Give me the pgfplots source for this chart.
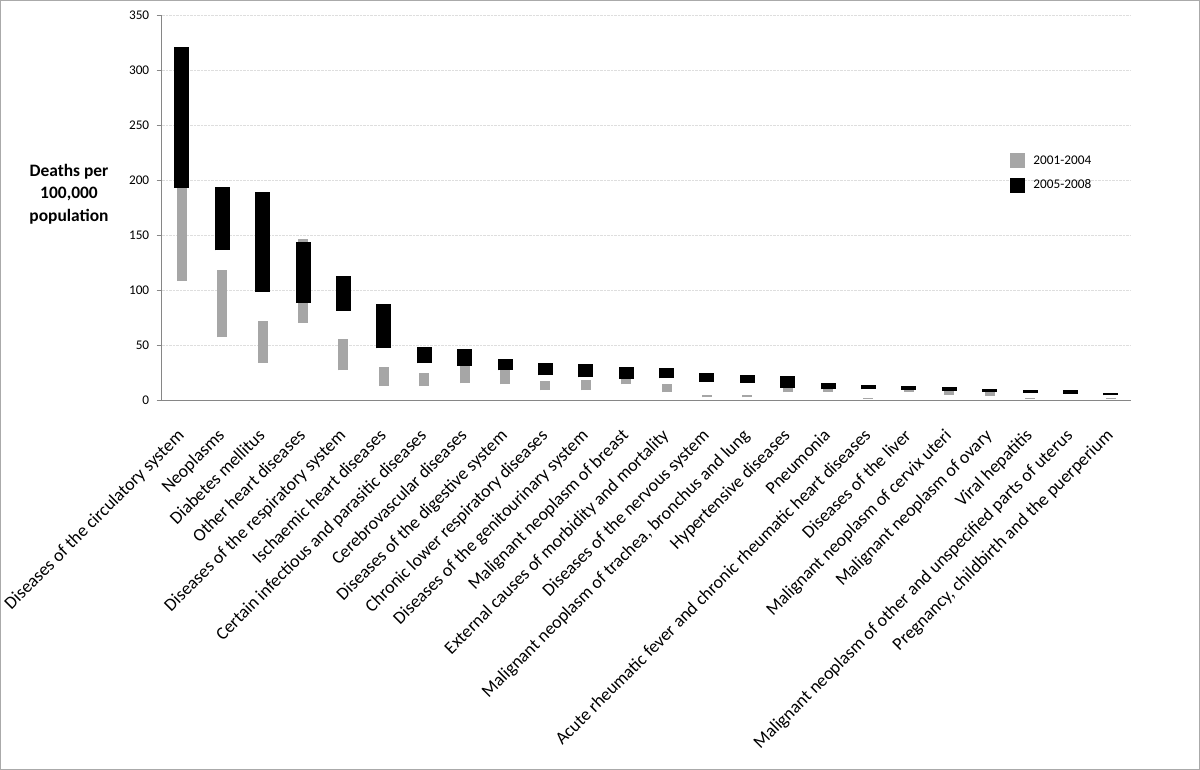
\documentclass[border=0pt]{standalone}
\usepackage{pgfplots}
\pgfplotsset{compat=1.18}
\usepackage{pgfplotstable}
\usepackage{fontspec}
\setmainfont{Carlito}
\definecolor{barGray}{RGB}{166,166,166}
\definecolor{axGray}{RGB}{134,134,134}
\definecolor{gridGray}{RGB}{222,222,222}

\pgfplotstableread{
x glo ghi blo bhi
0 108 193 193 321
1 57 118 136 194
2 34 72 98 189
3 70 146 88.5 144
4 27 55 81 113
5 13 30 47 87
6 12.7 24.8 33.3 47.9
7 15.2 31.2 31.2 46.1
8 14.2 27 27 37.3
9 8.8 17 22.4 33.3
10 8.8 18.2 20.6 32.4
11 14.2 19.4 19.4 29.7
12 7 14.2 19.7 28.8
13 2.4 4.5 16.4 24.2
14 2.4 4.5 15.5 22.4
15 7 11.2 11.2 21.5
16 7.3 9.7 9.7 15.2
17 1.2 2.0 9.7 13.6
18 7.3 9.1 9.1 12.7
19 4.8 8.5 8.5 11.5
20 3.6 7.3 7.3 10.3
21 1.2 1.8 6.7 9.1
22 5.0 7.5 5.5 9.1
23 1.0 1.5 4.3 6.6
}\data

\begin{document}
\begin{tikzpicture}[x=1bp,y=1bp]
\useasboundingbox (0,0) rectangle (1200,770);
\draw[axGray!70, line width=1bp] (0.5,0.5) rectangle (1199.5,769.5);
\begin{axis}[
  at={(161.7bp,370bp)}, anchor=south west,
  scale only axis, width=969.3bp, height=385bp,
  xmin=-0.5, xmax=23.5, ymin=0, ymax=350,
  axis x line=bottom, axis y line=left,
  axis line style={-, axGray, line width=0.8bp},
  tick align=outside,
  ytick={0,50,...,350},
  yticklabel style={font=\fontsize{13.3}{16}\selectfont, xshift=-4bp, /pgf/number format/assume math mode=true},
  /pgf/number format/assume math mode=true,
  ymajorgrids, grid style={gridGray, densely dotted, line width=0.8bp},
  major tick length=5bp,
  xtick={0,...,23},
  x tick style={draw=none},
  y tick style={axGray, line width=0.8bp},
  minor xtick={-0.5,0.5,...,23.5},
  minor x tick style={axGray, line width=0.8bp},
  minor tick length=6bp,
  xticklabels={Diseases of the circulatory system,Neoplasms,Diabetes mellitus,Other heart diseases,Diseases of the respiratory system,Ischaemic heart diseases,Certain infectious and parasitic diseases,Cerebrovascular diseases,Diseases of the digestive system,Chronic lower respiratory diseases,Diseases of the genitourinary system,Malignant neoplasm of breast,External causes of morbidity and mortality,Diseases of the nervous system,{Malignant neoplasm of trachea, bronchus and lung},Hypertensive diseases,Pneumonia,Acute rheumatic fever and chronic rheumatic heart diseases,Diseases of the liver,Malignant neoplasm of cervix uteri,Malignant neoplasm of ovary,Viral hepatitis,Malignant neoplasm of other and unspecified parts of uterus,{Pregnancy, childbirth and the puerperium}},
  xticklabel style={font=\fontsize{18}{20}\selectfont, rotate=45, anchor=north east, inner sep=0pt, xshift=-20bp, yshift=-12bp},
  legend style={at={(0.875,0.641)}, anchor=north west, draw=none, fill=none, font=\fontsize{13.3}{16}\selectfont, row sep=10bp, inner sep=0pt,
    /tikz/every odd column/.append style={column sep=7bp}},
  legend cell align=left,
]
\addplot[draw=none, mark=none, forget plot, error bars/.cd, y dir=plus, y explicit, error mark=none,
  error bar style={draw=barGray, line width=10bp, line cap=butt, solid}]
  table[x=x, y=glo, y error expr=\thisrow{ghi}-\thisrow{glo}] {\data};
\addplot[draw=none, mark=none, forget plot, error bars/.cd, y dir=plus, y explicit, error mark=none,
  error bar style={draw=black, line width=15bp, line cap=butt, solid}]
  table[x=x, y=blo, y error expr=\thisrow{bhi}-\thisrow{blo}] {\data};
\addlegendimage{legend image code/.code={\fill[barGray] (0bp,-7bp) rectangle (14bp,7bp);}}
\addlegendentry{2001-2004}
\addlegendimage{legend image code/.code={\fill[black] (0bp,-7bp) rectangle (14bp,7bp);}}
\addlegendentry{2005-2008}
\end{axis}
\node[font=\bfseries\fontsize{17.5}{22.5}\selectfont, align=center] at (69,576) {Deaths per\\100,000\\population};
\end{tikzpicture}
\end{document}
